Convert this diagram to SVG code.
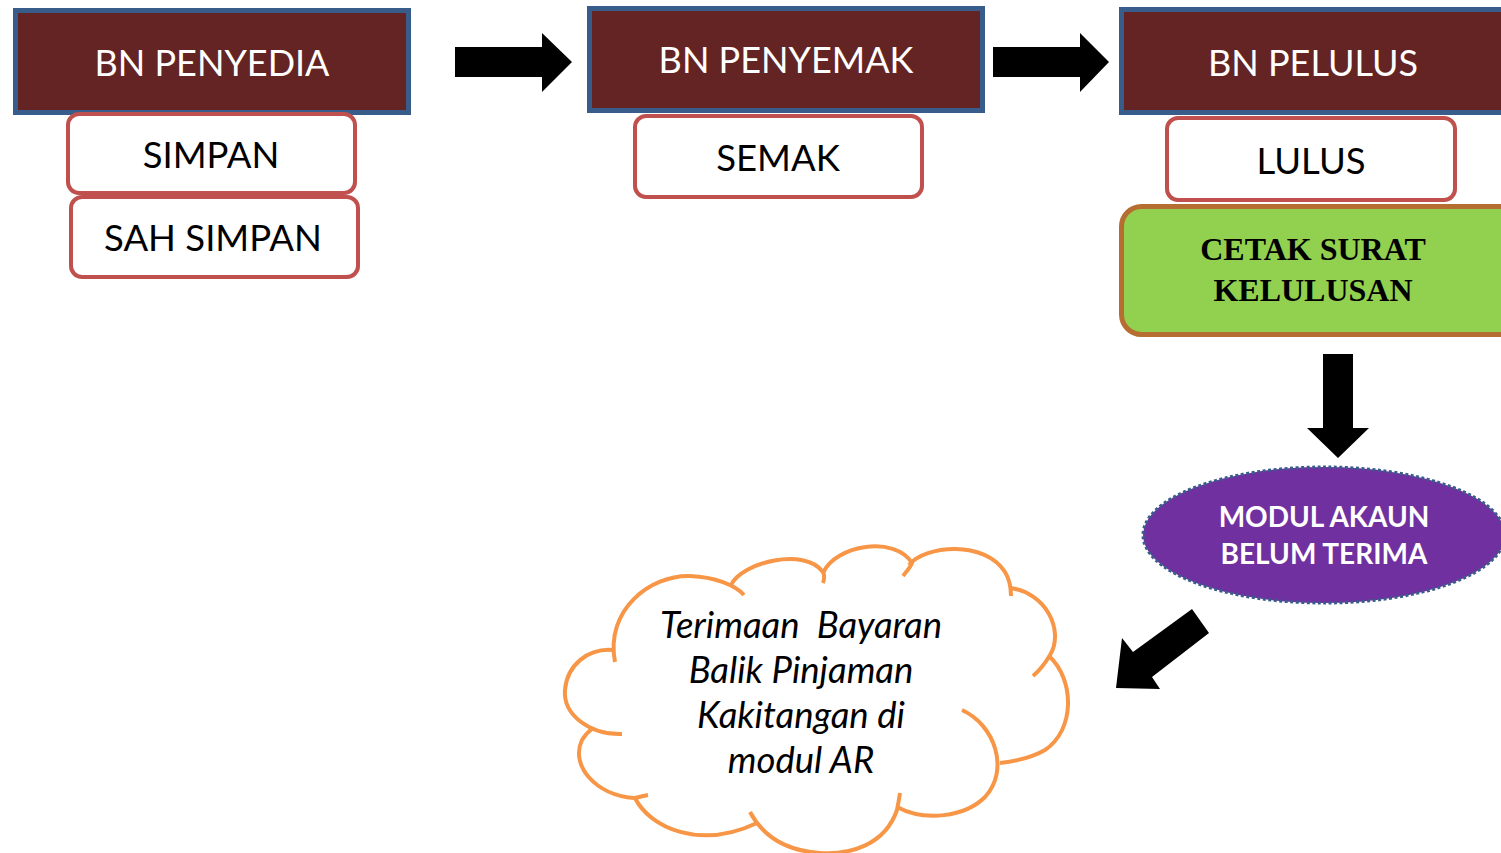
<svg xmlns="http://www.w3.org/2000/svg" width="1501" height="853" viewBox="0 0 1501 853">
<style>
.hdr{fill:#632423;stroke:#385D8A;stroke-width:5}
.hdrt{font-family:Lato,"Open Sans",sans-serif;font-size:36px;fill:#fff;text-anchor:middle}
.act{fill:#fff;stroke:#C0504D;stroke-width:4}
.actt{font-family:Lato,"Open Sans",sans-serif;font-size:36.5px;fill:#000;text-anchor:middle}
.arrow{fill:#000}
.cloud{fill:none;stroke:#F79646;stroke-width:4;stroke-linecap:butt}
.ct{font-family:Lato,"Open Sans",sans-serif;font-style:italic;font-size:36.5px;fill:#000;text-anchor:middle}
</style>
<rect width="1501" height="853" fill="#fff"/>
<g id="penyedia">
<rect class="hdr" x="15.5" y="10.5" width="393" height="102"/>
<text class="hdrt" x="212" y="76">BN PENYEDIA</text>
</g>
<g id="simpan">
<rect class="act" x="68" y="114" width="287" height="79" rx="11"/>
<text class="actt" x="211" y="168">SIMPAN</text>
</g>
<g id="sah-simpan">
<rect class="act" x="71" y="197" width="287" height="80" rx="11"/>
<text class="actt" x="213" y="251">SAH SIMPAN</text>
</g>
<g id="penyemak">
<rect class="hdr" x="589.5" y="8.5" width="393" height="102"/>
<text class="hdrt" x="786" y="73">BN PENYEMAK</text>
</g>
<g id="semak">
<rect class="act" x="635" y="116" width="287" height="81" rx="11"/>
<text class="actt" x="778" y="171">SEMAK</text>
</g>
<g id="pelulus">
<rect class="hdr" x="1121.5" y="9.5" width="398" height="103"/>
<text class="hdrt" x="1313" y="76">BN PELULUS</text>
</g>
<g id="lulus">
<rect class="act" x="1167" y="118" width="288" height="82" rx="11"/>
<text class="actt" x="1311" y="174">LULUS</text>
</g>
<g id="cetak">
<rect x="1121.5" y="206.5" width="400" height="128" rx="20" fill="#92D050" stroke="#B66D31" stroke-width="5"/>
<text font-family="'Liberation Serif',serif" font-weight="bold" font-size="32" text-anchor="middle" fill="#000"><tspan x="1313" y="260">CETAK SURAT</tspan><tspan x="1313" y="301">KELULUSAN</tspan></text>
</g>
<g id="modul">
<ellipse cx="1324" cy="535" rx="181" ry="68" fill="#7030A0" stroke="#385D8A" stroke-width="3" stroke-dasharray="3 2.5"/>
<text font-family="Lato,'Open Sans',sans-serif" font-weight="bold" font-size="28" text-anchor="middle" fill="#fff"><tspan x="1324" y="527">MODUL AKAUN</tspan><tspan x="1324" y="564">BELUM TERIMA</tspan></text>
</g>
<g id="terimaan">
<path class="cloud" d="M 622,734 C 590,735 563,715 565,690 C 567,665 588,648 613,650"/>
<path class="cloud" d="M 615,662 C 605,610 650,575 690,576 C 715,577 735,585 744,595"/>
<path class="cloud" d="M 731,585 C 742,562 805,547 823,572 C 825,576 824,580 823,583"/>
<path class="cloud" d="M 823,573 C 835,545 895,535 912,563 C 910,568 906,572 903,576"/>
<path class="cloud" d="M 909,565 C 925,545 985,540 1005,572 C 1010,580 1011,588 1011,596"/>
<path class="cloud" d="M 1010,588 C 1045,592 1065,630 1050,655 C 1046,662 1040,670 1033,676"/>
<path class="cloud" d="M 1049,656 C 1075,680 1075,730 1045,750 C 1033,757 1018,761 1000,763"/>
<path class="cloud" d="M 962,710 C 995,725 1010,770 985,797 C 965,817 925,822 897,807"/>
<path class="cloud" d="M 900,793 C 899,800 898,805 897,810 C 885,845 850,855 820,853 C 790,851 765,840 750,812"/>
<path class="cloud" d="M 648,795 C 643,796 639,797 635,798 C 650,828 700,850 757,823"/>
<path class="cloud" d="M 634,798 C 595,795 570,765 582,740 C 585,735 589,731 593,728"/>
<text class="ct"><tspan x="801" y="638" xml:space="preserve">Terimaan  Bayaran</tspan><tspan x="801" y="683">Balik Pinjaman</tspan><tspan x="801" y="728">Kakitangan di</tspan><tspan x="801" y="773">modul AR</tspan></text>
</g>
<g id="connectors">
<polygon class="arrow" points="455,47 542,47 542,33 572,62 542,92 542,77 455,77"/>
<polygon class="arrow" points="993,47 1080,47 1080,33 1109,62 1080,92 1080,77 993,77"/>
<polygon class="arrow" points="1323,354 1353,354 1353,428 1369,428 1338,458 1307,428 1323,428"/>
<polygon class="arrow" points="1192,609 1209,633 1152,677 1160,689 1116,688 1122,638 1133,652"/>
</g>
</svg>
